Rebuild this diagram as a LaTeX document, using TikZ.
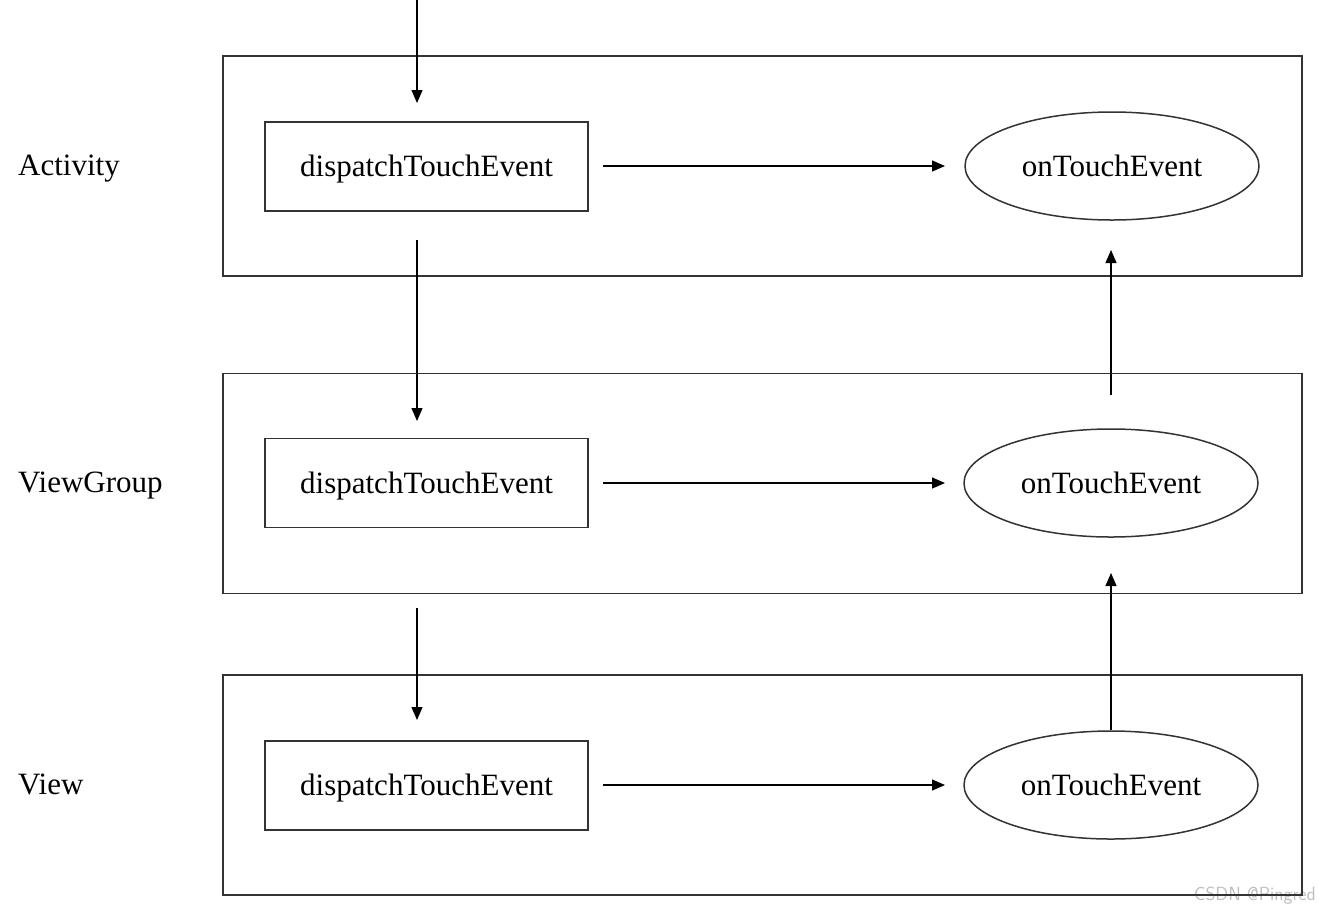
\documentclass[tikz,border=0pt]{standalone}
\usepackage{fontspec}
\setmainfont{Liberation Serif}
\usetikzlibrary{arrows.meta,shapes.geometric}
\begin{document}
\begin{tikzpicture}[x=1pt,y=-1pt,
  every node/.style={font=\fontsize{31}{36}\selectfont},
  layer/.style={draw=black!80,line width=1.5pt,minimum width=1079pt,minimum height=220pt,inner sep=0pt},
  dispbox/.style={draw=black!80,line width=1.5pt,minimum width=323pt,minimum height=89pt,inner sep=0pt,text depth=1pt},
  handler/.style={ellipse,draw=black!80,line width=1.5pt,minimum width=294pt,minimum height=108pt,inner sep=0pt,text depth=1pt},
  lbl/.style={anchor=west,inner sep=0pt,text depth=1pt},
  flow/.style={draw=black,line width=1.3pt,-{Triangle[length=13pt,width=11pt]}}]
\useasboundingbox (0,0) rectangle (1319,906);
\clip (0,0) rectangle (1319,906);
\fill[white] (0,0) rectangle (1319,906);
% watermark
\node[anchor=south east,inner sep=1pt,text=black!25,font=\fontsize{19}{22}\selectfont\sffamily] (wm) at (1317,906) {CSDN @Pingred};
% layers
\node[layer] (la) at (762.5,166) {};
\node[layer] (lg) at (762.5,483.5) {};
\node[layer] (lv) at (762.5,785) {};
% labels
\node[lbl] (ta) at (18,166) {Activity};
\node[lbl] (tg) at (18,483) {ViewGroup};
\node[lbl] (tv) at (18,785) {View};
% dispatch boxes
\node[dispbox] (da) at (426.5,166.5) {dispatchTouchEvent};
\node[dispbox] (dg) at (426.5,483) {dispatchTouchEvent};
\node[dispbox] (dv) at (426.5,785.5) {dispatchTouchEvent};
% ellipses
\node[handler] (ea) at (1112,166) {onTouchEvent};
\node[handler] (eg) at (1111,483) {onTouchEvent};
\node[handler] (ev) at (1111,785) {onTouchEvent};
% coordinates
\coordinate (in) at (417,0);
\coordinate (inA) at (417,103);
\coordinate (a1) at (417,240);
\coordinate (a2) at (417,421);
\coordinate (g1) at (417,608);
\coordinate (g2) at (417,720);
\coordinate (ra1) at (603,166);
\coordinate (ra2) at (945,166);
\coordinate (rg1) at (603,483);
\coordinate (rg2) at (945,483);
\coordinate (rv1) at (603,785);
\coordinate (rv2) at (945,785);
\coordinate (ug1) at (1111,395);
\coordinate (ug2) at (1111,250);
\coordinate (uv2) at (1111,573);
% connectors
\draw[flow] (in) -- (inA);
\draw[flow] (a1) -- (a2);
\draw[flow] (g1) -- (g2);
\draw[flow] (ra1) -- (ra2);
\draw[flow] (rg1) -- (rg2);
\draw[flow] (rv1) -- (rv2);
\draw[flow] (ug1) -- (ug2);
\draw[flow] (ev.north) -- (uv2);
\end{tikzpicture}
\end{document}
